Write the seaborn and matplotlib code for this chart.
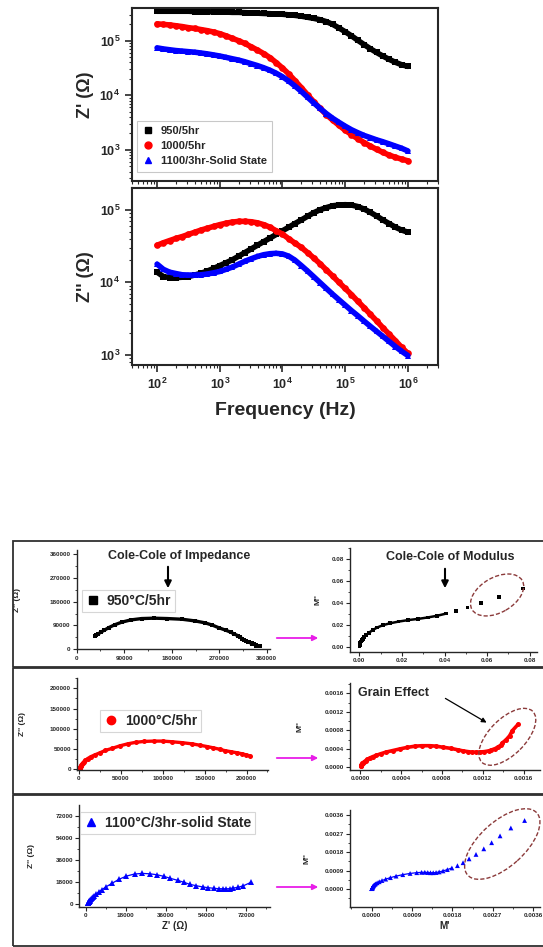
"""
Impedance spectra (Z', Z'' vs frequency) for three sintering conditions,
plus Cole-Cole plots of impedance and electric modulus for each sample.
"""
import numpy as np
import seaborn as sns
import matplotlib.pyplot as plt
from matplotlib.lines import Line2D
from matplotlib.patches import Ellipse, Rectangle, FancyArrowPatch
from matplotlib.ticker import (MultipleLocator, FormatStrFormatter, FuncFormatter,
                               LogLocator, NullFormatter)
from matplotlib.transforms import ScaledTranslation

# Measured frequencies (Hz), 10 points per decade
FREQ = [1.00e2, 1.26e2, 1.58e2, 2.00e2, 2.51e2, 3.16e2, 3.98e2, 5.01e2, 6.31e2, 7.94e2,
        1.00e3, 1.26e3, 1.58e3, 2.00e3, 2.51e3, 3.16e3, 3.98e3, 5.01e3, 6.31e3, 7.94e3,
        1.00e4, 1.26e4, 1.58e4, 2.00e4, 2.51e4, 3.16e4, 3.98e4, 5.01e4, 6.31e4, 7.94e4,
        1.00e5, 1.26e5, 1.58e5, 2.00e5, 2.51e5, 3.16e5, 3.98e5, 5.01e5, 6.31e5, 7.94e5,
        1.00e6]

# Real part Z' (ohm)
ZRE_950 = [347000, 347000, 347000, 347000, 347000, 347000, 343000, 343000, 339000, 339000,
           339000, 335000, 331000, 331000, 327000, 324000, 320000, 316000, 313000, 309000,
           305500, 298500, 291700, 281800, 269200, 257000, 242700, 223900, 199500, 171800,
           146200, 123000, 102300, 85100, 71600, 61000, 52500, 45700, 40300, 36300,
           33900]
ZRE_1000 = [204200, 199500, 195000, 188400, 182000, 173800, 167900, 160300, 153100, 144500,
            134900, 123000, 110900, 100000, 89100, 77600, 67600, 58200, 49000, 39800,
            31600, 24600, 18600, 13800, 10230, 7590, 5750, 4420, 3510, 2820,
            2290, 1905, 1603, 1365, 1175, 1023, 902, 804, 733, 676,
            631]
ZRE_1100 = [74100, 70800, 68400, 66100, 64600, 63100, 61700, 59600, 57500, 55000,
            52500, 49600, 46800, 44200, 41200, 38000, 35100, 32000, 28800, 25400,
            21900, 18200, 14800, 11750, 9230, 7240, 5750, 4620, 3800, 3200,
            2720, 2340, 2070, 1840, 1680, 1530, 1410, 1290, 1175, 1072,
            955]

# Imaginary part Z'' (ohm)
ZIM_950 = [13800, 12000, 11600, 11600, 11750, 12000, 12600, 13300, 14300, 15500,
           17000, 18600, 20400, 22900, 25700, 28800, 32400, 36300, 40700, 45700,
           51300, 57500, 64600, 72400, 81300, 91200, 100000, 107200, 113500, 116100,
           117500, 116100, 110900, 102300, 92300, 82200, 72400, 64600, 57500, 52500,
           49000]
ZIM_1000 = [32400, 35100, 37600, 40300, 42700, 45700, 49000, 52500, 55600, 58900,
            62400, 65300, 67600, 69200, 69200, 68400, 66100, 62400, 57500, 51300,
            46200, 39800, 34700, 30200, 25700, 21600, 18000, 14800, 12200, 10000,
            8220, 6760, 5500, 4470, 3630, 2950, 2370, 1930, 1570, 1270,
            1047]
ZIM_1100 = [17800, 15100, 13800, 13200, 12700, 12600, 12600, 12700, 13000, 13500,
            14100, 15100, 16200, 17800, 19500, 21100, 22700, 24000, 24800, 25100,
            24600, 22900, 20200, 17000, 14300, 11900, 9890, 8220, 6840, 5750,
            4840, 4070, 3470, 2920, 2480, 2110, 1800, 1530, 1300, 1120,
            977]

# Empty-cell capacitance (F) used for M* = j*w*C0*Z*
C0_950 = 2.5e-13
C0_1000 = 2.35e-13
C0_1100 = 5.55e-13

TOP_LABELS = ["950/5hr", "1000/5hr", "1100/3hr-Solid State"]
BOX_LABELS = ["950°C/5hr", "1000°C/5hr", "1100°C/3hr-solid State"]
COLORS = ["black", "#ff0000", "#0000ff"]
MARKERS = ["s", "o", "^"]

W, H = 543, 947


def modulus(z_re, z_im, c0):
    w = 2 * np.pi * np.asarray(FREQ)
    return w * c0 * np.asarray(z_im), w * c0 * np.asarray(z_re)


def px_axes(fig, left, top, right, bottom):
    return fig.add_axes([left / W, 1 - bottom / H, (right - left) / W, (bottom - top) / H])


def log_fmt(v, pos):
    return r"$\mathbf{10^{%d}}$" % int(round(np.log10(v)))


def style_top(ax):
    for s in ax.spines.values():
        s.set_linewidth(1.5)
    ax.set_xscale("log")
    ax.set_yscale("log")
    ax.set_xlim(10 ** 1.6, 10 ** 6.48)
    for axis in (ax.xaxis, ax.yaxis):
        axis.set_major_locator(LogLocator(base=10, numticks=12))
        axis.set_minor_locator(LogLocator(base=10, subs=np.arange(2, 10), numticks=12))
        axis.set_major_formatter(FuncFormatter(log_fmt))
        axis.set_minor_formatter(NullFormatter())
    ax.tick_params(which="major", direction="out", length=5, width=1.2, labelsize=9)
    ax.tick_params(which="minor", direction="out", length=2.5, width=0.8)


def style_small(ax, xlim, ylim, xstep, ystep, fmt):
    sns.despine(ax=ax)
    for s in ("left", "bottom"):
        ax.spines[s].set_linewidth(1.0)
    ax.set_xlim(*xlim)
    ax.set_ylim(*ylim)
    ax.xaxis.set_major_locator(MultipleLocator(xstep))
    ax.xaxis.set_minor_locator(MultipleLocator(xstep / 2))
    ax.yaxis.set_major_locator(MultipleLocator(ystep))
    ax.yaxis.set_minor_locator(MultipleLocator(ystep / 2))
    ax.xaxis.set_major_formatter(FormatStrFormatter(fmt))
    ax.yaxis.set_major_formatter(FormatStrFormatter(fmt))
    ax.tick_params(which="major", direction="out", length=3, width=0.8, labelsize=4.5, pad=1.5)
    ax.tick_params(which="minor", direction="out", length=1.5, width=0.6)
    for lab in ax.get_xticklabels() + ax.get_yticklabels():
        lab.set_fontweight("bold")


def ring(fig, ax, cx, cy, w_px, h_px, angle):
    tr = fig.dpi_scale_trans + ScaledTranslation(cx, cy, ax.transData)
    fig.add_artist(Ellipse((0, 0), w_px / 100, h_px / 100, angle=angle, transform=tr,
                           fill=False, ls=(0, (3, 1.5)), ec="#8b3a3a", lw=1.0))


def fig_arrow(fig, p0, p1, color="black", lw=1.5, scale=10):
    fig.add_artist(FancyArrowPatch((p0[0] / W, 1 - p0[1] / H), (p1[0] / W, 1 - p1[1] / H),
                                   transform=fig.transFigure, arrowstyle="-|>",
                                   mutation_scale=scale, color=color, lw=lw))


def main():
    sns.set_style("ticks")
    plt.rcParams["font.family"] = ["Liberation Sans", "DejaVu Sans"]
    plt.rcParams["mathtext.fontset"] = "custom"
    plt.rcParams["mathtext.rm"] = "Liberation Sans"
    plt.rcParams["mathtext.bf"] = "Liberation Sans:bold"

    fig = plt.figure(figsize=(W / 100, H / 100), dpi=100)

    zre = [ZRE_950, ZRE_1000, ZRE_1100]
    zim = [ZIM_950, ZIM_1000, ZIM_1100]
    c0s = [C0_950, C0_1000, C0_1100]

    # ---- Frequency plots ----
    ax1 = px_axes(fig, 132, 8, 438, 181)
    ax2 = px_axes(fig, 132, 188, 438, 365)
    for i in range(3):
        for ax, vals in ((ax1, zre[i]), (ax2, zim[i])):
            sns.lineplot(x=FREQ, y=vals, color=COLORS[i], marker=MARKERS[i], markersize=4.8,
                         markeredgewidth=0, linewidth=4.0, estimator=None, ax=ax)
    style_top(ax1)
    style_top(ax2)
    ax1.set_ylim(10 ** 2.43, 10 ** 5.6)
    ax2.set_ylim(10 ** 2.86, 10 ** 5.3)
    ax1.tick_params(axis="x", labelbottom=False)
    ax1.set_ylabel("Z' (Ω)", fontsize=13, fontweight="bold", labelpad=4)
    ax2.set_ylabel("Z'' (Ω)", fontsize=13, fontweight="bold", labelpad=4)
    ax2.set_xlabel("Frequency (Hz)", fontsize=14, fontweight="bold", labelpad=7)
    handles = [Line2D([], [], ls="none", marker=MARKERS[i], color=COLORS[i], ms=5)
               for i in range(3)]
    leg = ax1.legend(handles, TOP_LABELS, loc="lower left", bbox_to_anchor=(0.017, 0.054),
                     borderaxespad=0, prop={"weight": "bold", "size": 8}, fancybox=False,
                     edgecolor="#bbbbbb", handlelength=1.0, handletextpad=0.6,
                     labelspacing=0.45, borderpad=0.5)
    leg.get_frame().set_linewidth(0.8)

    # ---- Cole-Cole panels ----
    rows = [
        dict(imp=(76.7, 550, 270, 649.3), ixl=(0, 366000), iyl=(0, 375000), istep=90000,
             mod=(350, 548.3, 536.7, 651.7), mxl=(-0.0044, 0.0833), myl=(-0.0046, 0.090),
             mstep=0.02, mfmt="%.2f", top=541, bottom=667, leg=(81.7, 590),
             iylab=-0.29, mylab=-0.15),
        dict(imp=(77.3, 678.3, 268.3, 770), ixl=(-2000, 226000), iyl=(-2500, 225000),
             istep=50000, mod=(350, 683.3, 540, 770), mxl=(-0.0001, 0.00176),
             myl=(-0.00006, 0.00182), mstep=0.0004, mfmt="%.4f", top=668, bottom=794,
             leg=(100, 710), iylab=-0.27, mylab=-0.245),
        dict(imp=(79.3, 805, 270, 906.7), ixl=(-2870, 82700), iyl=(-1950, 80700),
             istep=18000, mod=(350, 810, 540, 906.7), mxl=(-0.00048, 0.00375),
             myl=(-0.00085, 0.00384), mstep=0.0009, mfmt="%.4f", top=795, bottom=946,
             leg=(80, 811.7), iylab=-0.23, mylab=-0.21),
    ]
    imp_lw = [2.4, 2.4, 0.9]
    imp_ms = [3.4, 3.6, 3.8]
    mod_axes = []
    for i, r in enumerate(rows):
        fig.add_artist(Rectangle((13 / W, 1 - r["bottom"] / H), (W + 2 - 13) / W,
                                 (r["bottom"] - r["top"]) / H, transform=fig.transFigure,
                                 fill=False, ec="#303030", lw=1.3))
        axi = px_axes(fig, *r["imp"])
        axm = px_axes(fig, *r["mod"])
        mre, mim = modulus(zre[i], zim[i], c0s[i])
        sns.lineplot(x=zre[i], y=zim[i], color=COLORS[i], marker=MARKERS[i],
                     markersize=imp_ms[i], markeredgewidth=0, linewidth=imp_lw[i],
                     sort=False, estimator=None, ax=axi)
        if i == 0:
            # dense part drawn as a continuous trace, high-frequency tail as dots
            sns.lineplot(x=mre[:36], y=mim[:36], color=COLORS[i], linewidth=1.8,
                         sort=False, estimator=None, ax=axm)
            sns.scatterplot(x=mre, y=mim, color=COLORS[i], marker=MARKERS[i], s=7,
                            edgecolor="none", ax=axm)
        elif i == 1:
            sns.lineplot(x=mre, y=mim, color=COLORS[i], marker=MARKERS[i], markersize=3.6,
                         markeredgewidth=0, linewidth=2.6, sort=False, estimator=None, ax=axm)
        else:
            sns.lineplot(x=mre[:32], y=mim[:32], color=COLORS[i], linewidth=0.9,
                         sort=False, estimator=None, ax=axm)
            sns.scatterplot(x=mre, y=mim, color=COLORS[i], marker=MARKERS[i], s=12,
                            edgecolor="none", ax=axm)
        style_small(axi, r["ixl"], r["iyl"], r["istep"], r["istep"], "%d")
        style_small(axm, r["mxl"], r["myl"], r["mstep"], r["mstep"], r["mfmt"])
        axi.set_ylabel("Z'' (Ω)", fontsize=6, fontweight="bold")
        axi.yaxis.set_label_coords(r["iylab"], 0.5)
        axm.set_ylabel("M''", fontsize=6, fontweight="bold")
        axm.yaxis.set_label_coords(r["mylab"], 0.5)
        axi.legend([Line2D([], [], ls="none", marker=MARKERS[i], color=COLORS[i], ms=6)],
                   [BOX_LABELS[i]], loc="upper left",
                   bbox_to_anchor=(r["leg"][0] / W, 1 - r["leg"][1] / H),
                   bbox_transform=fig.transFigure, prop={"weight": "bold", "size": 10},
                   fancybox=False, edgecolor="#cccccc", borderpad=0.3, handlelength=1.0,
                   handletextpad=0.5, borderaxespad=0).get_frame().set_linewidth(0.8)
        mod_axes.append(axm)
        fig_arrow(fig, (274, [638, 758, 887][i]), (321, [638, 758, 887][i]),
                  color="#e81ce8", lw=1.3, scale=8)

    axi.set_xlabel("Z' (Ω)", fontsize=7, fontweight="bold", labelpad=2)
    mod_axes[2].set_xlabel("M'", fontsize=7, fontweight="bold", labelpad=2)

    # annotations
    fig.text(179 / W, 1 - 556 / H, "Cole-Cole of Impedance", ha="center", va="center",
             fontsize=9, fontweight="bold")
    fig_arrow(fig, (168, 564), (168, 591))
    fig.text(450 / W, 1 - 557 / H, "Cole-Cole of Modulus", ha="center", va="center",
             fontsize=9, fontweight="bold")
    fig_arrow(fig, (445, 566), (445, 591))
    fig.text(358 / W, 1 - 693 / H, "Grain Effect", ha="left", va="center",
             fontsize=9, fontweight="bold")
    fig_arrow(fig, (443, 697), (489, 724), lw=0.9, scale=7)

    ring(fig, mod_axes[0], 0.0647, 0.0473, 58, 35, 30)
    ring(fig, mod_axes[1], 0.00144, 0.00066, 72, 36, 45)
    ring(fig, mod_axes[2], 0.00291, 0.00219, 93, 45, 42)

    fig.savefig("out.png", dpi=100)


if __name__ == "__main__":
    main()
